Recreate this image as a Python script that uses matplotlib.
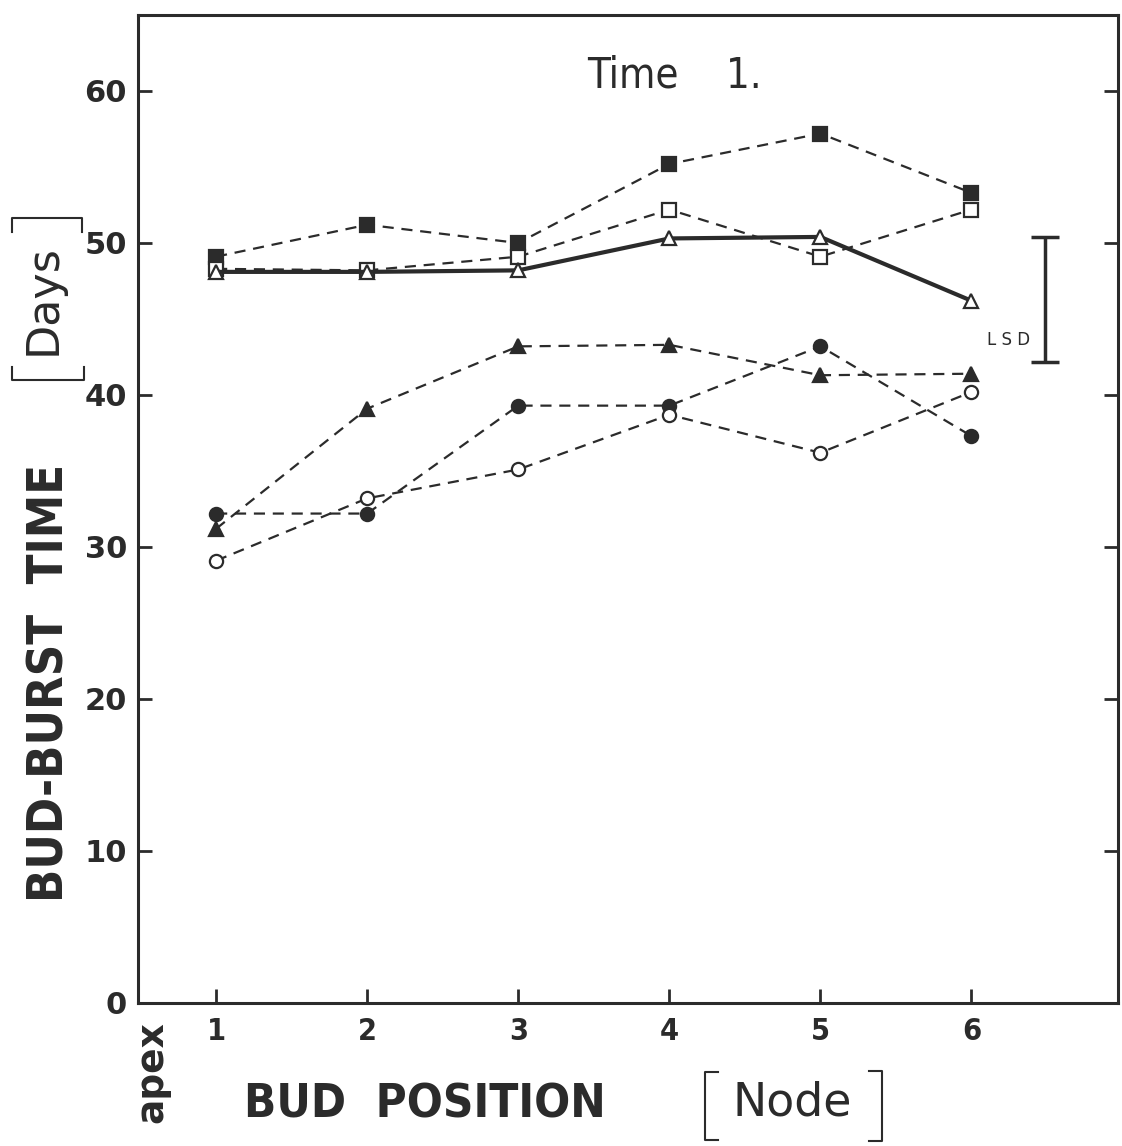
import matplotlib
matplotlib.use("Agg")
import matplotlib.pyplot as plt
from matplotlib.lines import Line2D

# ---- data ----
nodes = [1, 2, 3, 4, 5, 6]
filled_square = [49.1, 51.2, 50.0, 55.2, 57.2, 53.3]
open_square = [48.3, 48.2, 49.1, 52.2, 49.1, 52.2]
open_triangle = [48.1, 48.1, 48.2, 50.3, 50.4, 46.2]
filled_triangle = [31.2, 39.1, 43.2, 43.3, 41.3, 41.4]
filled_circle = [32.2, 32.2, 39.3, 39.3, 43.2, 37.3]
open_circle = [29.1, 33.2, 35.1, 38.7, 36.2, 40.2]
lsd_x = 6.49
lsd_low, lsd_high = 42.2, 50.4
yticks = [0, 10, 20, 30, 40, 50, 60]
xticks = [1, 2, 3, 4, 5, 6]

W, H = 1122, 1146
ink = '#2b2b2b'
fig = plt.figure(figsize=(W / 100, H / 100), dpi=100)
ax = fig.add_axes([138/W, 1-1003/H, (1118-138)/W, (1003-15)/H])
ax.set_xlim(0.483, 6.97)
ax.set_ylim(0, 65)

dash = (0, (5, 3.5))
ms = 9.5
common = dict(color=ink, lw=1.6, ls=dash, markersize=ms, markeredgewidth=1.6)
ax.plot(nodes, filled_square, marker='s', mfc=ink, mec=ink, **common)
ax.plot(nodes, open_square, marker='s', mfc='white', mec=ink, **common)
ax.plot(nodes, filled_triangle, marker='^', mfc=ink, mec=ink, **common)
ax.plot(nodes, filled_circle, marker='o', mfc=ink, mec=ink, **common)
ax.plot(nodes, open_circle, marker='o', mfc='white', mec=ink, **common)
ax.plot(nodes, open_triangle, marker='^', mfc='white', mec=ink, color=ink,
        lw=3.0, ls='-', markersize=ms, markeredgewidth=1.6)

# LSD bar
ax.errorbar([lsd_x], [(lsd_low + lsd_high) / 2], yerr=[(lsd_high - lsd_low) / 2],
            fmt='none', ecolor=ink, elinewidth=2.5, capsize=10, capthick=2.5)
ax.text(lsd_x - 0.1, 43.6, 'L S D', fontsize=12, color=ink, ha='right', va='center')

# spines and ticks
for s in ax.spines.values():
    s.set_linewidth(2.2)
    s.set_color(ink)
ax.set_yticks(yticks)
ax.set_xticks(xticks)
ax.tick_params(axis='y', direction='in', length=10, width=2, color=ink,
               left=True, right=True, pad=8)
ax.tick_params(axis='x', direction='in', length=10, width=2, color=ink,
               bottom=True, top=False, pad=10)
for lab in ax.get_yticklabels():
    lab.set_fontsize(22)
    lab.set_fontweight('bold')
    lab.set_color(ink)
for lab in ax.get_xticklabels():
    lab.set_fontsize(22)
    lab.set_fontweight('bold')
    lab.set_fontstretch('condensed')
    lab.set_color(ink)

# title
fig.text(674/W, 1-75/H, 'Time    1.', fontsize=30, color=ink,
         ha='center', va='center', fontstretch='condensed')

# y label
fig.text(50/W, 1-683/H, 'BUD-BURST  TIME', rotation=90, fontsize=35,
         fontweight='bold', fontstretch='condensed', color=ink,
         ha='center', va='center')
fig.text(43/W, 1-300/H, 'Days', rotation=90, fontsize=32,
         color=ink, ha='center', va='center')


def bracket(pts):
    xs = [p[0] / W for p in pts]
    ys = [1 - p[1] / H for p in pts]
    fig.add_artist(Line2D(xs, ys, color=ink, lw=1.5, transform=fig.transFigure))


bracket([(12, 232), (12, 218), (82, 218), (82, 232)])
bracket([(12, 367), (12, 380), (84, 380), (84, 367)])

# x label
fig.text(152/W, 1-1072/H, 'apex', rotation=90, fontsize=27,
         fontweight='bold', color=ink, ha='center', va='center')
fig.text(425/W, 1-1105/H, 'BUD  POSITION', fontsize=34,
         fontweight='bold', fontstretch='condensed', color=ink,
         ha='center', va='center')
fig.text(792/W, 1-1103/H, 'Node', fontsize=33,
         color=ink, ha='center', va='center')
bracket([(718, 1072), (705, 1072), (705, 1140), (718, 1140)])
bracket([(869, 1071), (882, 1071), (882, 1141), (869, 1141)])

fig.savefig('out.png', dpi=100, facecolor='white')
